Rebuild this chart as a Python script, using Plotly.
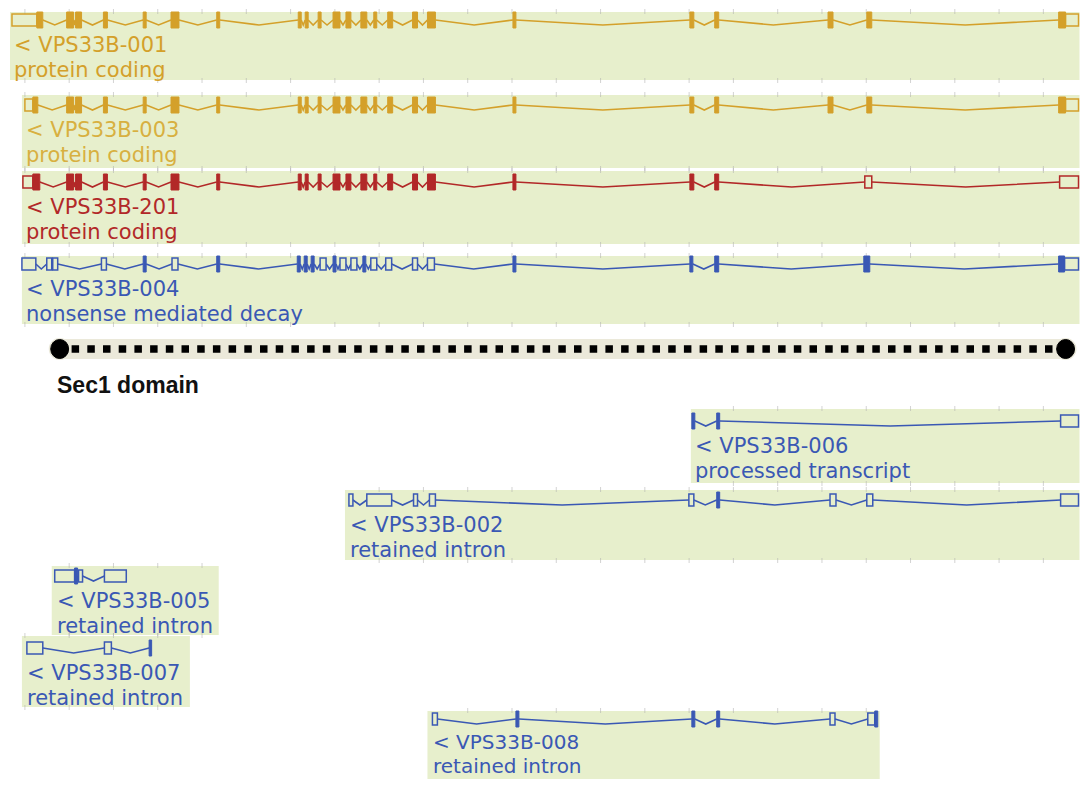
import plotly.graph_objects as go

W, H = 1088, 787
PAGE_MARGIN = 8  # browser default body margin around the plot

# ---------------- data ----------------
transcript_ids = ["VPS33B-001", "VPS33B-003", "VPS33B-201", "VPS33B-004",
                  "VPS33B-006", "VPS33B-002", "VPS33B-005", "VPS33B-007", "VPS33B-008"]
biotypes = ["protein coding", "protein coding", "protein coding", "nonsense mediated decay",
            "processed transcript", "retained intron", "retained intron", "retained intron",
            "retained intron"]

# exon coordinates on the drawn locus axis: start, end, kind (c = coding/filled, u = non-coding/open)
cluster = [(300, 303, "c"), (307, 310, "c"), (320, 323, "c"), (335, 342, "c"), (348, 353, "c"),
           (363, 369, "c"), (376, 379, "c"), (390, 395, "c"), (415, 420, "c"), (430, 438, "c")]
mid_exons = [(67, 74, "c"), (76, 82, "c"), (104, 108, "c"), (144, 147, "c"), (172, 180, "c"),
             (218, 221, "c")]

exons_001 = ([(12, 37, "u"), (37, 43, "c")] + mid_exons + cluster +
             [(516, 519, "c"), (694, 698, "c"), (719, 723, "c"), (833, 838, "c"), (872, 877, "c"),
              (1065, 1072, "c"), (1072, 1085, "u")])
exons_003 = ([(25, 33, "u"), (33, 38, "c")] + mid_exons + cluster +
             [(516, 519, "c"), (694, 698, "c"), (719, 723, "c"), (833, 838, "c"), (872, 877, "c"),
              (1065, 1072, "c"), (1072, 1085, "u")])
exons_201 = ([(23, 33, "u"), (33, 40, "c")] + mid_exons + cluster +
             [(516, 519, "c"), (694, 698, "c"), (719, 723, "c"), (870, 877, "u"),
              (1066, 1085, "u")])
exons_004 = [(22, 36, "u"), (47, 52, "u"), (53, 58, "u"), (102, 107, "u"), (144, 147, "c"),
             (173, 179, "u"), (218, 221, "c"),
             (299, 302, "c"), (306, 309, "c"), (313, 316, "c"), (322, 328, "u"), (335, 338, "c"),
             (342, 348, "u"), (353, 359, "u"), (365, 368, "c"), (373, 379, "u"), (388, 394, "u"),
             (415, 420, "u"), (430, 437, "u"),
             (516, 519, "c"), (694, 697, "c"), (719, 723, "c"), (869, 875, "c"),
             (1065, 1071, "c"), (1071, 1085, "u")]
exons_006 = [(696, 699, "c"), (721, 724, "c"), (1067, 1085, "u")]
exons_002 = [(351, 355, "u"), (369, 394, "u"), (416, 420, "u"), (432, 438, "u"), (693, 698, "u"),
             (721, 724, "c"), (835, 841, "u"), (872, 878, "u"), (1067, 1085, "u")]
exons_005 = [(55, 75, "u"), (75, 78, "c"), (79, 83, "u"), (105, 127, "u")]
exons_007 = [(27, 43, "u"), (105, 112, "u"), (150, 152, "c")]
exons_008 = [(435, 440, "u"), (519, 522, "c"), (696, 699, "c"), (721, 724, "c"), (835, 840, "u"),
             (873, 880, "u"), (880, 883, "c")]

exon_sets = [exons_001, exons_003, exons_201, exons_004, exons_006, exons_002,
             exons_005, exons_007, exons_008]

domain_name = "Sec1 domain"
domain_start, domain_end = 60, 1072

# ---------------- layout / style ----------------
ORANGE, RED, BLUE = "#d4a02a", "#b22828", "#3a58b4"
track_colors = [ORANGE, ORANGE, RED, BLUE, BLUE, BLUE, BLUE, BLUE, BLUE]
text_colors = ["#d4a02a", "#d8b040", RED, BLUE, BLUE, BLUE, BLUE, BLUE, BLUE]
BAND = "#e7efcc"

row_line_y = [20, 105, 182, 264, 421, 500, 576, 648, 719]
band_x0 = [10, 22, 22, 22, 695, 347, 52, 22, 430]
band_x1 = [1086, 1086, 1086, 1086, 1086, 1086, 220, 191, 885]
band_y0 = [12, 95, 171, 256, 409, 490, 566, 636, 711]
band_y1 = [80, 168, 244, 324, 483, 560, 635, 707, 790]
label_x = [12, 24, 24, 24, 697, 350, 55, 25, 434]
label_dy = [(25, 50)] * 8 + [(23, 47)]
label_size = [21] * 8 + [20]

TICK_START, TICK_STEP = 25, 44.55
FILLED_HALF, OPEN_HALF, DIP = 8, 6, 5

shapes = []
annotations = []

for i, tid in enumerate(transcript_ids):
    y = row_line_y[i]
    col = track_colors[i]
    shapes.append(dict(type="rect", xref="x", yref="y", x0=band_x0[i], x1=band_x1[i],
                       y0=band_y0[i], y1=band_y1[i], fillcolor=BAND, line_width=0, layer="below"))
    k = 0
    while TICK_START + k * TICK_STEP < band_x1[i]:
        tx = TICK_START + k * TICK_STEP
        k += 1
        if tx <= band_x0[i] + 2:
            continue
        for (ya, yb) in [(band_y0[i] - 3, band_y0[i] + 2), (band_y1[i] - 2, band_y1[i] + 3)]:
            shapes.append(dict(type="line", xref="x", yref="y", x0=tx, x1=tx, y0=ya, y1=yb,
                               line=dict(color="rgba(175,175,175,0.55)", width=1), layer="below"))
    exs = exon_sets[i]
    for (a, b) in zip(exs[:-1], exs[1:]):
        x0, x1 = a[1], b[0]
        if x1 - x0 <= 0.5:
            continue
        xm = (x0 + x1) / 2
        shapes.append(dict(type="path", xref="x", yref="y",
                           path=f"M {x0},{y} L {xm},{y + DIP} L {x1},{y}",
                           line=dict(color=col, width=1.6)))
    for (s, e, kind) in exs:
        if kind == "c":
            shapes.append(dict(type="rect", xref="x", yref="y", x0=s, x1=max(e, s + 2.5),
                               y0=y - FILLED_HALF, y1=y + FILLED_HALF,
                               fillcolor=col, line=dict(color=col, width=1)))
        else:
            shapes.append(dict(type="rect", xref="x", yref="y", x0=s, x1=e,
                               y0=y - OPEN_HALF, y1=y + OPEN_HALF,
                               fillcolor=BAND, line=dict(color=col, width=1.5)))
    d1, d2 = label_dy[i]
    for dy, txt in ((d1, "&lt; " + tid), (d2, biotypes[i])):
        annotations.append(dict(x=label_x[i], y=y + dy, xref="x", yref="y", text=txt,
                                showarrow=False, xanchor="left", yanchor="middle",
                                font=dict(family="DejaVu Sans", size=label_size[i],
                                          color=text_colors[i])))

# protein domain track
DOM_Y = 349
shapes.append(dict(type="rect", xref="x", yref="y", x0=domain_start, x1=domain_end,
                   y0=DOM_Y - 10, y1=DOM_Y + 10, fillcolor="#ebe9da", line_width=0, layer="below"))
for cx in (domain_start, domain_end):
    shapes.append(dict(type="circle", xref="x", yref="y", x0=cx - 11, x1=cx + 11,
                       y0=DOM_Y - 11, y1=DOM_Y + 11, fillcolor="#ebe9da", line_width=0,
                       layer="below"))
    shapes.append(dict(type="circle", xref="x", yref="y", x0=cx - 9, x1=cx + 9,
                       y0=DOM_Y - 9.5, y1=DOM_Y + 9.5, fillcolor="#000000",
                       line=dict(color="#000000", width=1)))

fig = go.Figure()
fig.add_trace(go.Scatter(x=[domain_start + 12, domain_end - 10], y=[DOM_Y, DOM_Y], mode="lines",
                         line=dict(color="#000000", width=7.5, dash="7.5px,8.2px"),
                         hoverinfo="skip", showlegend=False))
annotations.append(dict(x=55, y=385, xref="x", yref="y", text="<b>" + domain_name + "</b>",
                        showarrow=False, xanchor="left", yanchor="middle",
                        font=dict(family="Liberation Sans, Arial", size=23, color="#111111")))

# the page adds an 8px body margin, so the figure is shrunk by it and the axis ranges
# are set so that locus units land (almost) on page pixels
fig.update_layout(
    width=W - 2 * PAGE_MARGIN, height=H - 2 * PAGE_MARGIN, margin=dict(l=0, r=0, t=0, b=0),
    paper_bgcolor="white", plot_bgcolor="white",
    xaxis=dict(range=[PAGE_MARGIN, 1086.5], visible=False, fixedrange=True),
    yaxis=dict(range=[H - PAGE_MARGIN, PAGE_MARGIN], visible=False, fixedrange=True),
    shapes=shapes, annotations=annotations, showlegend=False,
)

fig.write_html("out.html")
